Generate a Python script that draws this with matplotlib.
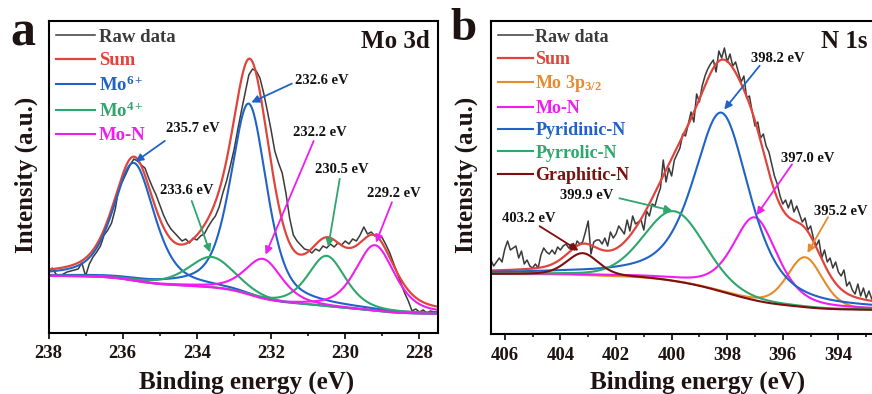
import numpy as np
import matplotlib.pyplot as plt
from matplotlib.ticker import MultipleLocator

plt.rcParams['font.family'] = 'Liberation Serif'
plt.rcParams['font.weight'] = 'bold'
plt.rcParams['mathtext.fontset'] = 'custom'
plt.rcParams['mathtext.rm'] = 'Liberation Serif:bold'
plt.rcParams['mathtext.it'] = 'Liberation Serif:bold'
plt.rcParams['mathtext.bf'] = 'Liberation Serif:bold'
plt.rcParams['axes.linewidth'] = 1.5

# ---- Mo 3d: raw counts from 238.0 eV down to 227.5 eV, 0.1 eV step
mo_start = 238.0
mo_raw = [60, 65, 59, 57, 59, 61, 62, 63, 64, 70,
          57, 69, 76, 81, 87, 98, 103, 110, 124, 146,
          152, 160, 168, 174, 172, 168, 165, 155, 146, 138,
          128, 118, 110, 104, 100, 96, 92, 94, 90, 95,
          93, 97, 99, 106, 112, 117, 126, 140, 152, 167,
          183, 203, 222, 240, 258, 264, 262, 255, 240, 222,
          203, 182, 170, 160, 140, 115, 98, 92, 88, 84,
          83, 80, 84, 82, 87, 85, 89, 86, 90, 88,
          92, 89, 94, 92, 98, 106, 99, 101, 97, 98,
          95, 88, 80, 70, 60, 50, 40, 32, 22, 24,
          21, 23, 20, 22, 21, 21]
mo_labels = ['Mo$^{6+}$', 'Mo$^{4+}$', 'Mo-N']
mo_centers = [[235.7, 232.6], [233.6, 230.5], [232.2, 229.2]]
mo_heights = [[118, 192], [31, 51], [41, 66]]
mo_fwhm = [[1.3, 1.15], [1.5, 1.2], [1.2, 1.25]]
mo_eta = 0.5
mo_bg = [57, 19]

# ---- N 1s: raw counts from 406.5 eV down to 392.5 eV, 0.1 eV step
n_start = 406.5
n_raw = [74, 68, 72, 76, 72, 85, 93, 84, 86, 88,
         76, 83, 70, 74, 68, 66, 70, 66, 79, 86,
         82, 80, 84, 80, 87, 84, 88, 90, 86, 90,
         84, 93, 90, 92, 102, 113, 80, 92, 94, 94,
         90, 96, 88, 102, 96, 100, 108, 104, 100, 114,
         103, 118, 110, 112, 114, 104, 123, 118, 130, 128,
         138, 146, 174, 152, 166, 158, 174, 180, 186, 200,
         198, 210, 222, 212, 240, 232, 248, 258, 265, 270,
         274, 262, 283, 276, 286, 272, 280, 268, 272, 262,
         252, 258, 236, 238, 222, 208, 212, 196, 200, 188,
         182, 170, 158, 150, 138, 130, 134, 126, 134, 122,
         128, 120, 112, 116, 104, 108, 96, 88, 94, 76,
         84, 72, 76, 66, 72, 62, 58, 64, 48, 52,
         44, 40, 50, 38, 46, 36, 43, 35, 40, 36,
         38]
n_labels = ['Mo 3p$_{3/2}$', 'Mo-N', 'Pyridinic-N', 'Pyrrolic-N', 'Graphitic-N']
n_centers = [395.2, 397.0, 398.2, 399.9, 403.2]
n_heights = [50, 83, 179, 70, 22]
n_fwhm = [1.5, 1.9, 2.4, 2.6, 1.35]
n_eta = [0.3, 0.5, 0.6, 0.2, 0.3]
n_bg = [60, 24]
n_ticks = [406, 404, 402, 400, 398, 396, 394]

raw_c = '#3a3a3a'
sum_c = '#e0443c'
mo_colors = ['#1f63c6', '#2ea66c', '#f01cf0']
n_colors = ['#e88a2c', '#f01cf0', '#1f63c6', '#2ea66c', '#7d0f0f']
txt_c = '#1e1212'


def pv(x, c, h, w, eta):
    u = (x - c) / w
    return h * (eta / (1 + 4 * u**2) + (1 - eta) * np.exp(-4 * np.log(2) * u**2))


def shirley(peaks, hi, lo):
    tot = np.sum(peaks, axis=0)
    cum = np.cumsum(tot[::-1])[::-1]
    return lo + (hi - lo) * cum / cum[0]


def style(ax, xlim, ylim):
    ax.set_xlim(*xlim)
    ax.set_ylim(*ylim)
    ax.set_yticks([])
    ax.xaxis.set_major_locator(MultipleLocator(2))
    ax.xaxis.set_minor_locator(MultipleLocator(1))
    ax.tick_params(axis='x', which='major', direction='out', length=4, width=1.3,
                   labelsize=13.5, pad=5, colors=txt_c)
    ax.tick_params(axis='x', which='minor', direction='out', length=2.5, width=1.1)


def arrow(ax, x, y, col, tail, text, txt, shrink):
    ax.annotate('', xy=(x, y), xytext=tail, textcoords='offset pixels',
                arrowprops=dict(arrowstyle='-|>', color=col, lw=1.3,
                                mutation_scale=11, shrinkA=0, shrinkB=shrink))
    ax.annotate(txt, xy=(x, y), xytext=text, textcoords='offset pixels',
                ha='center', va='center', fontsize=10.5, fontweight='bold', color='#111111')


fig = plt.figure(figsize=(8.72, 3.94), dpi=100)

# ---------------- panel a ----------------
axa = fig.add_axes([48.5 / 872, 61 / 394, 389.5 / 872, 312 / 394])
xa = np.linspace(238.0, 227.5, 1051)
pa = [[pv(xa, c, h, w, mo_eta) for c, h, w in zip(cs, hs, ws)]
      for cs, hs, ws in zip(mo_centers, mo_heights, mo_fwhm)]
bga = shirley([p for grp in pa for p in grp], *mo_bg)
Ea = mo_start - 0.1 * np.arange(len(mo_raw))

axa.plot(Ea, mo_raw, color=raw_c, lw=1.1, label='Raw data')
axa.plot(xa, bga + np.sum([p for grp in pa for p in grp], axis=0), color=sum_c, lw=1.6, label='Sum')
for grp, lab, col in zip(pa, mo_labels, mo_colors):
    for k, p in enumerate(grp):
        axa.plot(xa, bga + p, color=col, lw=1.5, label=lab if k == 0 else None)
style(axa, (238, 227.5), (0, 312))

ann_a = [(0, 0, '235.7 eV', (31, 22), (59, 34), 1.5),
         (0, 1, '232.6 eV', (43, 20), (73, 23), 2),
         (1, 0, '233.6 eV', (-20, 56), (-25, 66), 3.5),
         (2, 0, '232.2 eV', (50, 118), (56, 127), 3.5),
         (1, 1, '230.5 eV', (13, 77), (15, 86), 6.5),
         (2, 1, '229.2 eV', (17, 43), (19, 52), 2)]
for g, k, txt, tail, tpos, sh in ann_a:
    c = mo_centers[g][k]
    i = np.argmin(np.abs(xa - c))
    arrow(axa, c, bga[i] + pa[g][k][i], mo_colors[g], tail, tpos, txt, sh)

axa.legend(loc='upper left', bbox_to_anchor=(0, 1), frameon=False, fontsize=13.5,
           handlelength=2.1, handletextpad=0.2, labelspacing=0.34,
           borderaxespad=0, borderpad=0.4, labelcolor='linecolor')
axa.text(0.98, 0.933, 'Mo 3d', transform=axa.transAxes, ha='right', va='center',
         fontsize=18, fontweight='bold', color=txt_c)

# ---------------- panel b ----------------
axb = fig.add_axes([490.9 / 872, 60 / 394, 403.1 / 872, 313 / 394])
xb = np.linspace(406.5, 392.0, 1451)
pb = [pv(xb, c, h, w, e) for c, h, w, e in zip(n_centers, n_heights, n_fwhm, n_eta)]
bgb = shirley(pb, *n_bg)
Eb = n_start - 0.1 * np.arange(len(n_raw))

axb.plot(Eb, n_raw, color=raw_c, lw=1.1, label='Raw data')
axb.plot(xb, bgb + np.sum(pb, axis=0), color=sum_c, lw=1.6, label='Sum')
for p, lab, col in zip(pb, n_labels, n_colors):
    axb.plot(xb, bgb + p, color=col, lw=1.5, label=lab)
style(axb, (406.5, 392.0), (0, 313))
axb.set_xticks(n_ticks)

ann_b = [(2, '398.2 eV', (38, 47), (56, 54), 3),
         (1, '397.0 eV', (37, 53), (53, 59), 2),
         (0, '395.2 eV', (23, 40), (36, 46), 3.5),
         (3, '399.9 eV', (-55, 13), (-88, 16), 1.5),
         (4, '403.2 eV', (-43, 27), (-54, 35), 3.5)]
for k, txt, tail, tpos, sh in ann_b:
    c = n_centers[k]
    i = np.argmin(np.abs(xb - c))
    arrow(axb, c, bgb[i] + pb[k][i], n_colors[k], tail, tpos, txt, sh)

axb.legend(loc='upper left', bbox_to_anchor=(0, 1), frameon=False, fontsize=13,
           handlelength=1.9, handletextpad=0.15, labelspacing=0.3,
           borderaxespad=0, borderpad=0.42, labelcolor='linecolor')
axb.text((844 - 490.9) / 403.1, 0.933, 'N 1s', transform=axb.transAxes,
         ha='center', va='center', fontsize=18, fontweight='bold', color=txt_c)

# axis titles and panel letters
for xc, yc in [(26, 175), (466, 175)]:
    fig.text(xc / 872, 1 - yc / 394, 'Intensity (a.u.)', rotation=90, ha='center', va='center',
             fontsize=18, fontweight='bold', color=txt_c)
for xc in [247, 698]:
    fig.text(xc / 872, 5 / 394, 'Binding energy (eV)', ha='center', va='baseline',
             fontsize=18, fontweight='bold', color=txt_c)
fig.text(10 / 872, 1 - 46 / 394, 'a', ha='left', va='baseline', fontsize=36,
         fontweight='bold', color=txt_c)
fig.text(450 / 872, 1 - 40 / 394, 'b', ha='left', va='baseline', fontsize=34,
         fontweight='bold', color=txt_c)

fig.savefig('out.png', dpi=100)
